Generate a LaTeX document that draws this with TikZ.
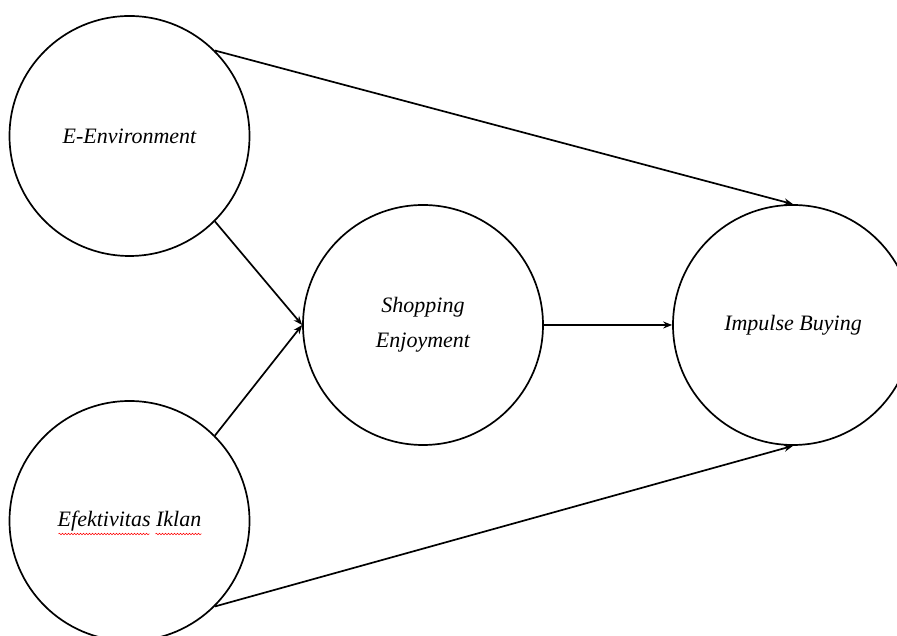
\documentclass[tikz,border=0pt]{standalone}
\usepackage{fontspec}
\setmainfont{Liberation Serif}
\usepackage{tikz}
\usetikzlibrary{shapes.geometric, arrows, arrows.meta, calc, decorations.pathmorphing}
\tikzstyle{latent} = [circle, minimum size=240pt, inner sep=0pt, text centered, align=center, draw=black, line width=1.7pt, font=\fontsize{22}{35}\selectfont\itshape]
\tikzstyle{arrow} = [line width=1.7pt,->,>={Stealth[length=9pt,width=7pt]}]
\tikzstyle{spell} = [red, line width=0.5pt, decorate, decoration={snake, amplitude=0.8pt, segment length=3pt}]

\begin{document}
\begin{tikzpicture}[x=1pt, y=1pt]
        \useasboundingbox (0,0) rectangle (897,636);
        % Nodes
        \node (ee) [latent] at (129.5,500) {E-Environment};
        \node (ei) [latent] at (129.5,115) {Efektivitas Iklan};
        \node (se) [latent] at (423,311) {Shopping\\Enjoyment};
        \node (ib) [latent] at (793,311) {Impulse Buying};

        % Spelling marks
        \draw [spell] ($(ei.center)+(-71,-13)$) -- ($(ei.center)+(20,-13)$);
        \draw [spell] ($(ei.center)+(26,-13)$) -- ($(ei.center)+(72,-13)$);

        % Lines
        \draw [arrow] (ee.45) -- (ib.north);
        \draw [arrow] (ee.-45) -- (se.west);
        \draw [arrow] (ei.45) -- (se.west);
        \draw [arrow] (ei.-45) -- (ib.south);
        \draw [arrow] (se.east) -- (ib.west);
    \end{tikzpicture}
\end{document}
